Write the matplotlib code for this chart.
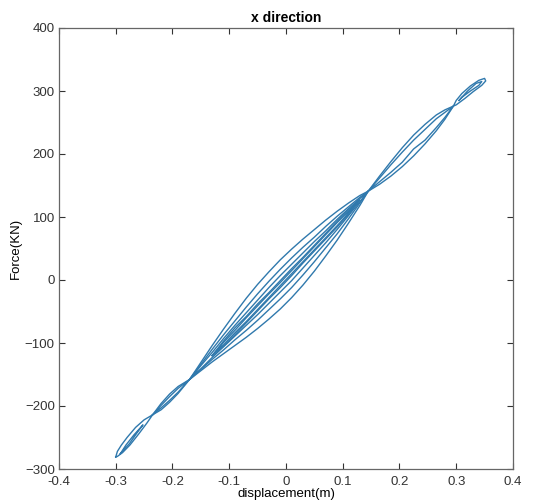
import matplotlib
matplotlib.use("Agg")
import matplotlib.pyplot as plt

plt.rcParams['font.family'] = ['Liberation Sans', 'DejaVu Sans']

# ---- data (displacement in m, force in kN) ----
# central segment: shared displacement stations between the two pinch points
mid_d = [-0.17, -0.15, -0.13, -0.11, -0.09, -0.07, -0.05, -0.03, -0.01,
         0.01, 0.03, 0.05, 0.07, 0.09, 0.11, 0.13, 0.145]
loopA_up = [-158, -131, -104, -78, -53, -29, -7, 13, 32, 49, 65, 80, 95, 109, 122, 134, 141]
loopA_lo = [-158, -144, -130, -117, -104, -91, -77, -62, -46, -28, -8, 14, 38, 63, 90, 118, 141]
loopB_up = [-158, -134, -110, -87, -65, -43, -22, -2, 17, 35, 52, 68, 85, 101, 116, 131, 141]
loopB_lo = [-158, -142, -126, -111, -95, -80, -64, -47, -30, -12, 8, 29, 51, 73, 97, 122, 141]
loopC_up = [-158, -136, -115, -93, -72, -52, -32, -12, 7, 25, 43, 61, 78, 96, 113, 129, 141]
loopC_lo = [-158, -141, -123, -106, -89, -72, -55, -37, -19, -1, 19, 39, 59, 80, 102, 124, 141]
inner_d = [-0.13, -0.11, -0.09, -0.07, -0.05, -0.03, -0.01, 0.01, 0.03, 0.05, 0.07, 0.09, 0.11, 0.13]
loopD_up = [-120, -97, -76, -58, -38, -20, -1, 18, 36, 55, 74, 93, 111, 127]
loopD_lo = [-120, -105, -87, -68, -49, -30, -12, 7, 27, 46, 65, 84, 104, 127]
loopE_up = [-120, -99, -80, -60, -41, -22, -4, 15, 34, 53, 72, 91, 109, 127]
loopE_lo = [-120, -103, -84, -66, -47, -28, -9, 10, 29, 48, 67, 86, 106, 127]

# upper segment (upper pinch to waist)
up_d = [0.145, 0.165, 0.185, 0.205, 0.225, 0.245, 0.265, 0.280, 0.295]
loopF_up = [141, 165, 188, 210, 230, 247, 262, 270, 276]
loopF_lo = [141, 152, 165, 180, 197, 216, 237, 255, 276]
loopG_up = [141, 162, 183, 203, 222, 239, 256, 266, 276]
loopG_lo = [141, 156, 171, 187, 208, 222, 242, 258, 276]

# top loops
loopH_d = [0.295, 0.300, 0.310, 0.325, 0.340, 0.350, 0.352, 0.345, 0.330, 0.315, 0.300, 0.295]
loopH_f = [276, 285, 296, 308, 317, 320, 316, 309, 299, 288, 278, 276]
loopI_d = [0.305, 0.320, 0.335, 0.345, 0.340, 0.325, 0.310, 0.305]
loopI_f = [285, 300, 312, 315, 309, 300, 290, 285]

# lower segment loops
low_d = [-0.235, -0.220, -0.205, -0.190, -0.170]
loopJ_up = [-214, -196, -181, -169, -158]
loopJ_lo = [-214, -206, -194, -180, -158]
loopJ2_up = [-214, -199, -185, -172, -158]
loopJ2_lo = [-214, -203, -191, -178, -158]
loopK_d = [-0.300, -0.297, -0.290, -0.280, -0.265, -0.250, -0.235,
           -0.245, -0.260, -0.275, -0.288, -0.297, -0.300]
loopK_f = [-281, -272, -262, -250, -234, -222, -214,
           -227, -245, -262, -274, -280, -281]
loopL_d = [-0.292, -0.282, -0.268, -0.252, -0.262, -0.276, -0.292]
loopL_f = [-276, -262, -246, -230, -242, -260, -276]

xticks = [-0.4, -0.3, -0.2, -0.1, 0, 0.1, 0.2, 0.3, 0.4]
xticklabels = ['-0.4', '-0.3', '-0.2', '-0.1', '0', '0.1', '0.2', '0.3', '0.4']
yticks = [-300, -200, -100, 0, 100, 200, 300, 400]

fig = plt.figure(figsize=(5.36, 5.0), dpi=100)
ax = fig.add_axes([0.110, 0.062, 0.847, 0.882])

line_color = '#3079ad'
kw = dict(color=line_color, lw=1.0)

def loop(ax, d, up, lo):
    ax.plot(list(d) + list(d[::-1]), list(up) + list(lo[::-1]), **kw)

loop(ax, mid_d, loopA_up, loopA_lo)
loop(ax, mid_d, loopB_up, loopB_lo)
loop(ax, mid_d, loopC_up, loopC_lo)
loop(ax, inner_d, loopD_up, loopD_lo)
loop(ax, inner_d, loopE_up, loopE_lo)
loop(ax, up_d, loopF_up, loopF_lo)
loop(ax, up_d, loopG_up, loopG_lo)
loop(ax, low_d, loopJ_up, loopJ_lo)
loop(ax, low_d, loopJ2_up, loopJ2_lo)
ax.plot(loopH_d, loopH_f, **kw)
ax.plot(loopI_d, loopI_f, **kw)
ax.plot(loopK_d, loopK_f, **kw)
ax.plot(loopL_d, loopL_f, **kw)

ax.set_xlim(-0.4, 0.4)
ax.set_ylim(-300, 400)
ax.set_xticks(xticks)
ax.set_xticklabels(xticklabels)
ax.set_yticks(yticks)
ax.tick_params(direction='in', top=True, right=True, length=4, width=0.8,
               labelsize=9.5, colors='#333333')
ax.tick_params(axis='x', pad=5)
ax.tick_params(axis='y', pad=3)
for s in ax.spines.values():
    s.set_color('#666666')
    s.set_linewidth(0.9)

ax.set_title('x direction', fontsize=10, fontweight='bold', pad=4)
ax.set_xlabel('displacement(m)', fontsize=9.5, labelpad=0)
ax.set_ylabel('Force(KN)', fontsize=9.5, labelpad=2)

fig.savefig('out.png', dpi=100)
